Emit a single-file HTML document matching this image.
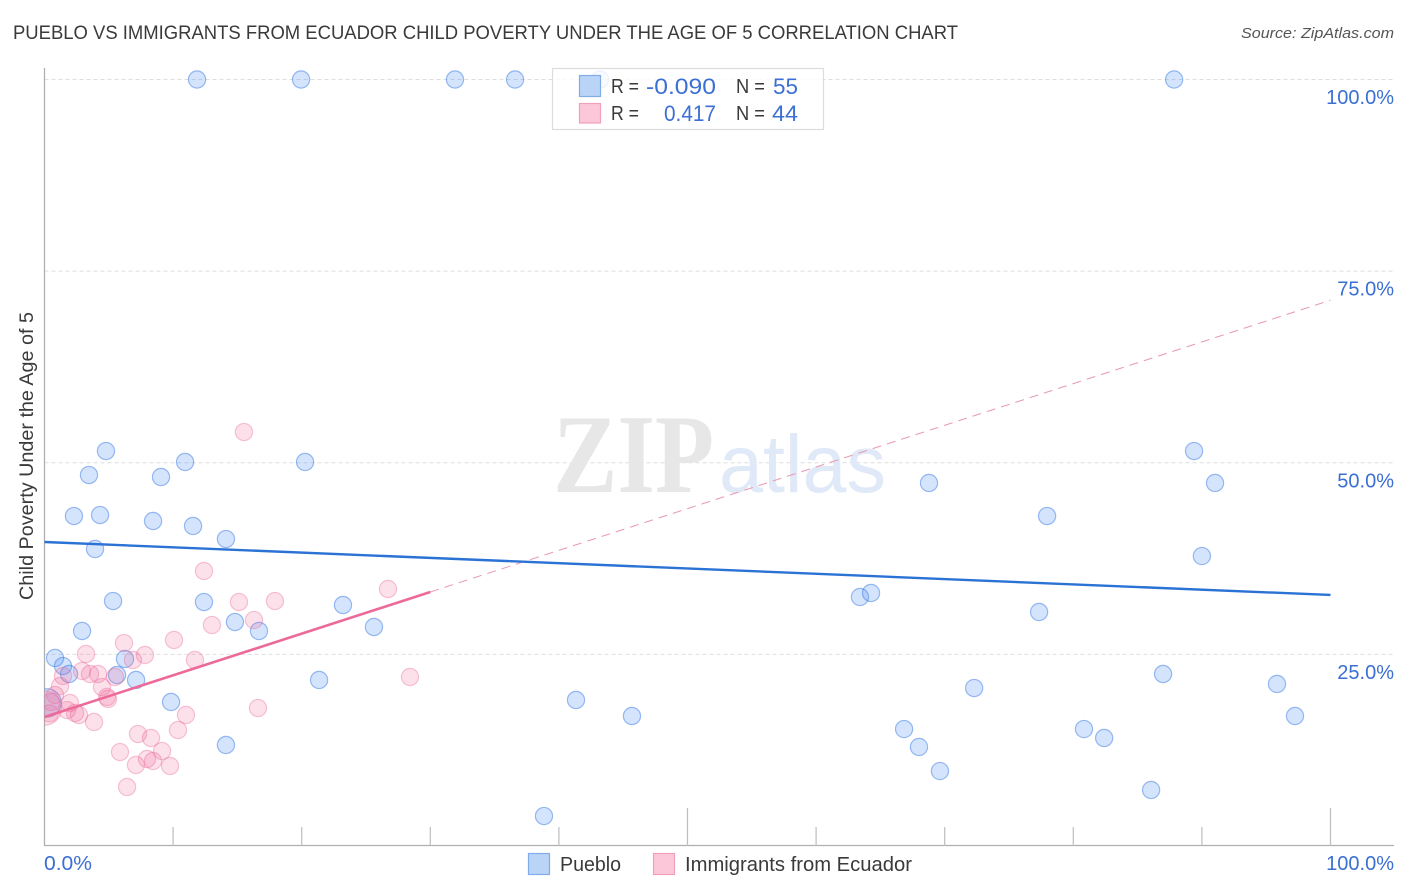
<!DOCTYPE html>
<html lang="en">
<head>
<meta charset="utf-8">
<title>Pueblo vs Immigrants from Ecuador Child Poverty Correlation Chart</title>
<style>
html,body{margin:0;padding:0;background:#fff;}
svg{display:block;font-family:"Liberation Sans",sans-serif;}
</style>
</head>
<body>
<svg id="chart" xmlns="http://www.w3.org/2000/svg" width="1406" height="892" viewBox="0 0 1406 892">
  <defs>
    <clipPath id="plot-clip"><rect x="44.5" y="60" width="1350" height="786"/></clipPath>
  </defs>
  <rect x="0" y="0" width="1406" height="892" fill="#fff"/>
  <text x="13" y="39" font-size="19.5" fill="#3a3a3a" textLength="945" lengthAdjust="spacingAndGlyphs">PUEBLO VS IMMIGRANTS FROM ECUADOR CHILD POVERTY UNDER THE AGE OF 5 CORRELATION CHART</text>
  <text x="1241" y="38" font-size="15" font-style="italic" fill="#555" textLength="153" lengthAdjust="spacingAndGlyphs">Source: ZipAtlas.com</text>
  <text transform="translate(33,600) rotate(-90)" font-size="19" fill="#3a3a3a" textLength="288" lengthAdjust="spacingAndGlyphs">Child Poverty Under the Age of 5</text>
  <g id="grid"></g>
  <g>
    <text x="553" y="492" font-family="'Liberation Serif',serif" font-weight="bold" font-size="112" fill="#e7e7e7" textLength="161" lengthAdjust="spacingAndGlyphs">ZIP</text>
    <text x="719" y="492" font-size="82" fill="#dfe9f8" textLength="167" lengthAdjust="spacingAndGlyphs">atlas</text>
  </g>
  <g id="axes"></g>
  <g id="marks" clip-path="url(#plot-clip)"></g>
  <g id="trends" clip-path="url(#plot-clip)"></g>
  <g id="tick-labels"></g>

  <g>
    <rect x="552.5" y="68.5" width="271" height="61" fill="#fff" fill-opacity="0.82" stroke="#dcdcdc" stroke-width="1.2"/>
    <rect x="579.5" y="75.5" width="21" height="21" fill="#b9d4f7" stroke="#80ade8" stroke-width="1.2"/>
    <rect x="579.5" y="103.5" width="21" height="19.5" fill="#fcc8d9" stroke="#f0a0b9" stroke-width="1.2"/>
    <text x="611" y="93" font-size="20" fill="#3a3a3a" textLength="28" lengthAdjust="spacingAndGlyphs">R =</text>
    <text x="646" y="94" font-size="22" fill="#3b6fd4" textLength="70" lengthAdjust="spacingAndGlyphs">-0.090</text>
    <text x="736" y="93" font-size="20" fill="#3a3a3a" textLength="29" lengthAdjust="spacingAndGlyphs">N =</text>
    <text x="773" y="94" font-size="22" fill="#3b6fd4" textLength="25" lengthAdjust="spacingAndGlyphs">55</text>
    <text x="611" y="120" font-size="20" fill="#3a3a3a" textLength="28" lengthAdjust="spacingAndGlyphs">R =</text>
    <text x="664" y="121" font-size="22" fill="#3b6fd4" textLength="52" lengthAdjust="spacingAndGlyphs">0.417</text>
    <text x="736" y="120" font-size="20" fill="#3a3a3a" textLength="29" lengthAdjust="spacingAndGlyphs">N =</text>
    <text x="772" y="121" font-size="22" fill="#3b6fd4" textLength="26" lengthAdjust="spacingAndGlyphs">44</text>
  </g>

  <g>
    <rect x="528.5" y="853.5" width="21" height="21" fill="#b9d4f7" stroke="#80ade8" stroke-width="1.2"/>
    <text x="560" y="871" font-size="20" fill="#3a3a3a" textLength="61" lengthAdjust="spacingAndGlyphs">Pueblo</text>
    <rect x="653.5" y="853.5" width="21" height="21" fill="#fcc8d9" stroke="#f0a0b9" stroke-width="1.2"/>
    <text x="685" y="871" font-size="20" fill="#3a3a3a" textLength="227" lengthAdjust="spacingAndGlyphs">Immigrants from Ecuador</text>
  </g>
</svg>
<script>
var blueX = [11.86,19.95,31.92,36.59,43.2,87.84,0.82,1.44,1.91,4.78,3.46,9.06,10.93,20.26,2.29,4.32,8.44,11.55,14.11,3.93,5.33,12.40,23.21,2.92,14.81,16.68,25.62,6.26,5.64,7.12,21.35,9.84,0.2,14.11,41.33,45.68,38.84,63.41,64.27,68.78,77.96,77.34,72.29,66.84,68.0,69.63,80.83,82.4,86.05,86.98,89.39,91.02,90.0,95.84,97.24];
var blueY = [100,100,100,100,100,100,24.53,23.48,22.44,51.53,48.40,48.14,50.10,50.10,43.05,43.18,42.40,41.75,40.05,38.75,31.96,31.83,31.44,28.05,29.22,28.05,28.57,24.40,22.31,21.66,21.66,18.79,18.66,13.18,19.05,16.96,3.91,32.49,33.01,47.36,43.05,30.53,20.61,15.26,12.92,9.78,15.26,14.09,7.31,22.44,51.53,47.36,37.83,21.14,16.96];
var blueWeight = [
  1,1,1,1,1,1,1,1,1,1,
  1,1,1,1,1,1,1,1,1,1,
  1,1,1,1,1,1,1,1,1,1,
  1,1,1.65,1,1,1,1,1,1,1,
  1,1,1,1,1,1,1,1,1,1,
  1,1,1,1,1
];
var pinkX = [6.18,3.23,7.81,6.88,10.07,11.70,13.02,16.29,2.92,3.54,4.16,1.21,1.44,4.47,4.86,4.94,5.48,0.82,1.98,1.75,2.37,2.68,3.85,0.51,11.0,10.38,16.6,7.27,8.28,5.87,9.14,7.97,7.11,8.44,9.76,6.42,15.51,12.40,26.71,17.92,15.12,28.42,0,0.4];
var pinkY = [26.48,25.05,24.92,24.27,26.88,24.27,28.83,29.48,22.83,22.44,22.44,20.87,22.18,20.74,19.44,19.18,22.05,19.70,18.66,17.74,17.35,17.09,16.18,18.79,17.09,15.13,18.0,14.61,14.09,12.26,12.39,11.35,10.57,11.09,10.44,7.70,54.01,35.88,33.53,31.96,31.83,22.05,18.0,17.3];
var pinkWeight = [
  1,1,1,1,1,1,1,1,1,1,
  1,1,1,1,1,1,1,1,1,1,
  1,1,1,1,1,1,1,1,1,1,
  1,1,1,1,1,1,1,1,1,1,
  1,1,2,1
];
var blueTrend = [39.66,32.75];
var pinkTrend = [16.83,33.14];
var pinkDashEnd = [30,100];
var pinkDashValues = [33.14,71.2];
var xTickValues = [0,10,20,30,40,50,60,70,80,90,100];
var yGridValues = [100,75,50,25];
var yTickLabels = ["100.0%","75.0%","50.0%","25.0%"];
var xEndLabels = ["0.0%","100.0%"];

var NS = 'http://www.w3.org/2000/svg';
function sx(v){ return 44.5 + v * 12.86; }
function sy(v){ return 846 - v * 7.665; }
function make(tag, parent, attrs){
  var el = document.createElementNS(NS, tag);
  for (var k in attrs) el.setAttribute(k, attrs[k]);
  parent.appendChild(el);
  return el;
}
var grid = document.getElementById('grid');
var axes = document.getElementById('axes');
var marks = document.getElementById('marks');
var trends = document.getElementById('trends');
var tickLabels = document.getElementById('tick-labels');

yGridValues.forEach(function(v, i){
  var l = make('line', grid, {x1:44.5, x2:1394, y1:sy(v), y2:sy(v), stroke:'#dedede', 'stroke-width':1, 'stroke-dasharray':'4 3'});
  
  
  var t = make('text', tickLabels, {x:1394, y:sy(v) + 24.5, 'font-size':20, fill:'#3b6fd4', 'text-anchor':'end'});
  t.textContent = yTickLabels[i];
  
  
});

var yAxis = make('line', axes, {x1:44.5, x2:44.5, y1:68, y2:846, stroke:'#b0b0b0', 'stroke-width':1.3});


var xAxis = make('line', axes, {x1:44, x2:1394, y1:845.5, y2:845.5, stroke:'#b0b0b0', 'stroke-width':1.3});


xTickValues.forEach(function(v){
  if (v === 0) return;
  var major = v % 50 === 0;
  var tk = make('line', axes, {x1:sx(v), x2:sx(v), y1:major ? 808 : 827, y2:846, stroke:'#bdbdbd', 'stroke-width':1.2});
  
  
});
var x0 = make('text', tickLabels, {x:44, y:870, 'font-size':20, fill:'#3b6fd4', textLength:48, lengthAdjust:'spacingAndGlyphs'});
x0.textContent = xEndLabels[0];


var x1 = make('text', tickLabels, {x:1394, y:870, 'font-size':20, fill:'#3b6fd4', 'text-anchor':'end'});
x1.textContent = xEndLabels[1];



blueX.forEach(function(v, i){
  var c = make('circle', marks, {cx:sx(v), cy:sy(blueY[i]), r:8.6 * blueWeight[i], fill:'rgba(66,133,244,0.22)', stroke:'rgba(40,110,225,0.45)', 'stroke-width':1.2});
  
  
});
pinkX.forEach(function(v, i){
  var c = make('circle', marks, {cx:sx(v), cy:sy(pinkY[i]), r:8.6 * pinkWeight[i], fill:'rgba(240,100,150,0.2)', stroke:'rgba(232,100,150,0.36)', 'stroke-width':1.2});
  
  
});

var dash = make('line', trends, {x1:sx(pinkDashEnd[0]), y1:sy(pinkDashValues[0]), x2:sx(pinkDashEnd[1]), y2:sy(pinkDashValues[1]), stroke:'#e89ab3', 'stroke-width':1, 'stroke-dasharray':'9 6'});


var bl = make('line', trends, {x1:sx(0), y1:sy(blueTrend[0]), x2:sx(100), y2:sy(blueTrend[1]), stroke:'#2a72d4', 'stroke-width':2.4});


var pl = make('line', trends, {x1:sx(0), y1:sy(pinkTrend[0]), x2:sx(30), y2:sy(pinkTrend[1]), stroke:'#ec6a9a', 'stroke-width':2.6});


</script>
</body>
</html>
